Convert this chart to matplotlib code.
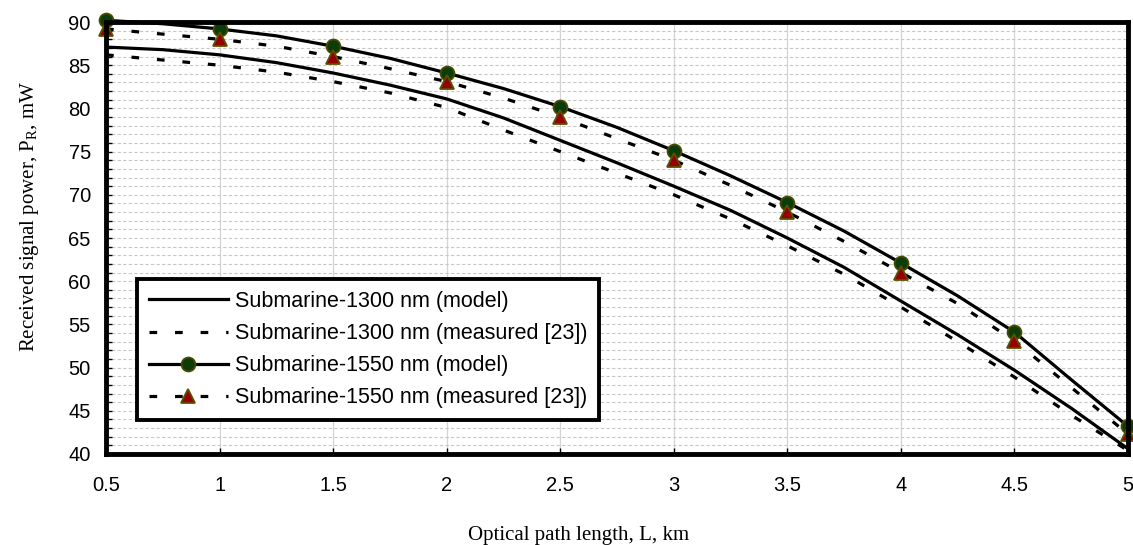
#!/usr/bin/env python3
"""
Received signal power versus optical path length for submarine links
at 1300 nm and 1550 nm: model curves against measured values [23].
"""
import matplotlib
matplotlib.use("Agg")
import matplotlib.pyplot as plt
from matplotlib.ticker import MultipleLocator

plt.rcParams["mathtext.fontset"] = "custom"
plt.rcParams["mathtext.rm"] = "Liberation Serif"

# optical path length, km (curves sampled every 0.25 km, markers every 0.5 km)
length_km = [0.5, 0.75, 1.0, 1.25, 1.5, 1.75, 2.0, 2.25, 2.5, 2.75,
             3.0, 3.25, 3.5, 3.75, 4.0, 4.25, 4.5, 4.75, 5.0]

# received power, mW
p_1300_model = [87.1, 86.8, 86.2, 85.3, 84.1, 82.7, 81.1, 78.9, 76.3, 73.7,
                71.0, 68.2, 65.0, 61.6, 57.7, 53.8, 49.7, 45.3, 40.6]
p_1300_meas = [86.2, 85.6, 85.0, 84.2, 83.1, 81.8, 80.1, 77.5, 75.0, 72.5,
               70.0, 67.2, 64.1, 60.8, 57.0, 53.0, 48.9, 44.5, 40.4]
p_1550_model = [90.2, 89.8, 89.2, 88.4, 87.2, 85.8, 84.1, 82.3, 80.2, 77.8,
                75.1, 72.2, 69.1, 65.8, 62.1, 58.3, 54.1, 48.6, 43.2]
p_1550_meas = [89.2, 88.6, 88.0, 87.2, 86.0, 84.6, 83.1, 81.2, 79.0, 76.5,
               74.0, 71.1, 68.0, 64.6, 61.0, 57.4, 53.1, 47.7, 42.3]

labels = ["Submarine-1300 nm (model)",
          "Submarine-1300 nm (measured [23])",
          "Submarine-1550 nm (model)",
          "Submarine-1550 nm (measured [23])"]

x_ticks = [0.5, 1, 1.5, 2, 2.5, 3, 3.5, 4, 4.5, 5]
x_ticklabels = ["0.5", "1", "1.5", "2", "2.5", "3", "3.5", "4", "4.5", "5"]

LW = 2.3
DASH = (2.4, 5.6)

fig = plt.figure(figsize=(11.33, 5.45), dpi=100)
ax = fig.add_axes([0.0936, 0.167, 0.902, 0.7926])

ax.plot(length_km, p_1300_model, color="black", lw=LW, label=labels[0],
        zorder=3)
ax.plot(length_km, p_1300_meas, color="black", lw=LW, dashes=DASH,
        label=labels[1], zorder=3)
ax.plot(length_km, p_1550_model, color="black", lw=LW, marker="o",
        markevery=2, markersize=10, markerfacecolor="#0a3d0a",
        markeredgecolor="#4a4a00", markeredgewidth=1.3, label=labels[2],
        zorder=4, clip_on=False)
ax.plot(length_km, p_1550_meas, color="black", lw=LW, dashes=DASH,
        marker="^", markevery=2, markersize=10.5, markerfacecolor="#960000",
        markeredgecolor="#5a5200", markeredgewidth=1.3, label=labels[3],
        zorder=5, clip_on=False)

ax.set_xlim(0.5, 5)
ax.set_ylim(40, 90)
ax.set_xticks(x_ticks)
ax.set_xticklabels(x_ticklabels)
ax.yaxis.set_major_locator(MultipleLocator(5))
ax.yaxis.set_minor_locator(MultipleLocator(1))

ax.grid(axis="x", which="major", color="#d4d4d4", lw=0.9, zorder=0)
ax.grid(axis="y", which="both", color="#c8c8c8", lw=0.8,
        linestyle=(0, (3, 2)), zorder=0)
ax.set_axisbelow(True)

for s in ax.spines.values():
    s.set_linewidth(3.5)
    s.set_zorder(6)

ax.tick_params(axis="x", which="major", direction="in", length=4, width=1,
               pad=16, labelsize=14.5)
ax.tick_params(axis="y", which="major", direction="in", length=4, width=1,
               pad=11, labelsize=14.5)
ax.tick_params(axis="y", which="minor", direction="in", length=4, width=1)
for t in ax.get_xticklabels() + ax.get_yticklabels():
    t.set_fontfamily("Liberation Sans")

ax.set_xlabel("Optical path length, L, km", family="Liberation Serif",
              fontsize=15, labelpad=22)
ax.set_ylabel(r"Received signal power, P$_\mathrm{R}$, mW",
              family="Liberation Serif", fontsize=15, labelpad=20)
# axis titles sit a little off the axes centre
ax.xaxis.label.set_x(0.462)
ax.yaxis.label.set_y(0.551)

leg = ax.legend(loc="upper left", bbox_to_anchor=(0.030, 0.405),
                borderaxespad=0, frameon=True, fancybox=False,
                handlelength=3.7, handletextpad=0.3, labelspacing=0.52,
                borderpad=0.55, prop={"family": "Liberation Sans", "size": 15.5})
leg.get_frame().set_edgecolor("black")
leg.get_frame().set_linewidth(2.8)
leg.get_frame().set_alpha(1)
leg.set_zorder(7)

fig.savefig("out.png", dpi=100)
plt.close(fig)
